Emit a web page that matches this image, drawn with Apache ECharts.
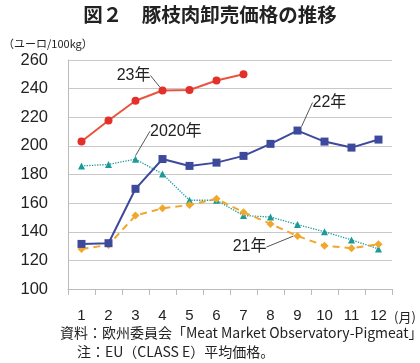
<!DOCTYPE html>
<html><head><meta charset="utf-8">
<script src="https://cdn.jsdelivr.net/npm/echarts@6/dist/echarts.min.js"></script>
<style>html,body{margin:0;padding:0;background:#fff}#c{width:420px;height:363px}</style>
</head><body><div id="c"></div>
<script>
const months = ['1','2','3','4','5','6','7','8','9','10','11','12'];
const yTicks = [100,120,140,160,180,200,220,240,260];
const y2020 = [186,187,190.7,180.4,162,162,151.3,150.3,145,140,134.3,128];
const y2021 = [128,130.8,151.3,156.4,158.7,163,153.6,145.5,137,130.3,128.5,131.3];
const y2022 = [131.5,132,170,190.8,186,188.3,193,201.4,210.7,203,198.8,204.4];
const y2023 = [203,217.7,231.5,238.7,239,245.7,250];

const F = '"Liberation Sans","Noto Sans CJK JP",sans-serif';
const J = '"Noto Sans CJK JP",sans-serif';
const chart = echarts.init(document.getElementById('c'), null, {renderer:'canvas'});

function withLabel(arr, idx, text, pos){
  return arr.map((v,i)=> i===idx ? {value:v, label:{show:true, formatter:text, position:pos}} : v);
}

chart.setOption({
  animation:false,
  textStyle:{fontFamily:F},
  title:[
    {text:'図２　豚枝肉卸売価格の推移', left:'center', top:0,
     textStyle:{fontFamily:J, fontSize:19.5, fontWeight:'bold', color:'#222'}},
    {text:'（ユーロ/100kg）', left:-2, top:33,
     textStyle:{fontFamily:J, fontSize:11, fontWeight:'normal', color:'#222'}},
    {text:'(月)', left:389, top:306,
     textStyle:{fontFamily:J, fontSize:13, fontWeight:'normal', color:'#222'}},
    {text:'資料：欧州委員会「Meat Market Observatory-Pigmeat」', left:55, top:321,
     textStyle:{fontFamily:J, fontSize:14, fontWeight:'normal', color:'#222'}},
    {text:'注：EU（CLASS E）平均価格。', left:72, top:340,
     textStyle:{fontFamily:J, fontSize:14, fontWeight:'normal', color:'#222'}}
  ],
  grid:{left:68, right:28, top:60, bottom:74},
  xAxis:{type:'category', data:months, boundaryGap:true,
    axisLine:{lineStyle:{color:'#bbb', width:1}},
    axisTick:{show:true, length:6, lineStyle:{color:'#bbb'}},
    axisLabel:{color:'#222', fontSize:15, margin:19, fontFamily:F}},
  yAxis:{type:'value', min:yTicks[0], max:yTicks[yTicks.length-1], interval:20,
    axisLine:{show:true, lineStyle:{color:'#bbb'}},
    axisTick:{show:false},
    splitLine:{lineStyle:{color:'#c8c8c8', width:1}},
    axisLabel:{color:'#222', fontSize:16.5, margin:20, fontFamily:F}},
  series:[
    {name:'2020年', type:'line', data:withLabel(y2020,2,'2020年','right'),
     symbol:'triangle', symbolSize:7, itemStyle:{color:'#1b9a9a'},
     lineStyle:{color:'#1b9a9a', width:1.3, type:'dotted'},
     label:{color:'#222', fontSize:16, fontFamily:F},
     labelLine:{show:true, lineStyle:{color:'#555', width:1}},
     labelLayout:{dx:6, dy:-28}, z:2},
    {name:'21年', type:'line', data:withLabel(y2021,8,'21年','left'),
     symbol:'diamond', symbolSize:8, itemStyle:{color:'#f0a72c'},
     lineStyle:{color:'#f0a72c', width:2, type:[7,5]},
     label:{color:'#222', fontSize:16, fontFamily:F},
     labelLine:{show:true, lineStyle:{color:'#555', width:1}},
     labelLayout:{dx:-22, dy:11}, z:3},
    {name:'22年', type:'line', data:withLabel(y2022,8,'22年','right'),
     symbol:'rect', symbolSize:8, itemStyle:{color:'#3d4a9c'},
     lineStyle:{color:'#3d4a9c', width:2},
     label:{color:'#222', fontSize:16, fontFamily:F},
     labelLine:{show:true, lineStyle:{color:'#555', width:1}},
     labelLayout:{dx:6, dy:-28}, z:4},
    {name:'23年', type:'line', data:withLabel(y2023,3,'23年','left'),
     symbol:'circle', symbolSize:8, itemStyle:{color:'#e3302a'},
     lineStyle:{color:'#e8553e', width:2},
     label:{color:'#222', fontSize:16, fontFamily:F},
     labelLine:{show:true, lineStyle:{color:'#555', width:1}},
     labelLayout:{dx:-3, dy:-15}, z:5}
  ]
});
</script></body></html>
